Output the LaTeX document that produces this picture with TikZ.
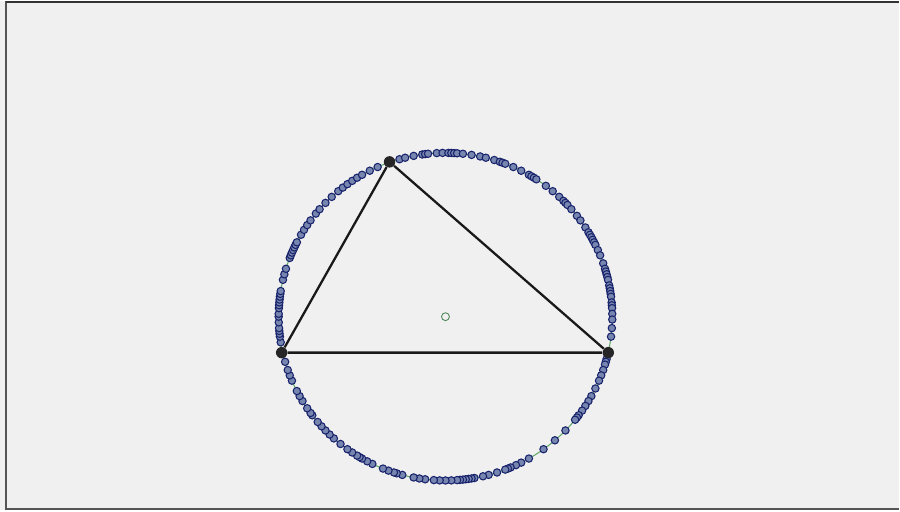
\documentclass[tikz,border=0pt]{standalone}
\usepackage{tikz}
\usetikzlibrary{positioning,calc}
\definecolor{panel}{HTML}{F0F0F0}
\definecolor{frame}{HTML}{555555}
\definecolor{ringgreen}{HTML}{5FA86A}
\definecolor{dotfill}{HTML}{7686AE}
\definecolor{dotedge}{HTML}{18226C}
\begin{document}
\begin{tikzpicture}[x=0.2mm,y=-0.2mm]
        %
        % `vertex' is used for the triangle corners.
        % `sample' is used for the small points on the circle.
        % `centre' is used for the circle's middle point.
        \tikzstyle{vertex} = [fill=black!85,shape=circle,minimum size=6.5pt,inner sep=0pt]
        \tikzstyle{sample} = [draw=dotedge,fill=dotfill,shape=circle,line width=.6pt,minimum size=4.2pt,inner sep=0pt]
        \tikzstyle{centre} = [draw=ringgreen!80!black,fill=panel,shape=circle,line width=.5pt,minimum size=4.5pt,inner sep=0pt]
        \tikzstyle{edge} = [line width=1.3pt,black!90]
        %
        % Background panel
        \fill[panel] (0,0) rectangle (900,510);
        \draw[frame,line width=1.2pt] (6,0) -- (6,510);
        \draw[black!80,line width=1.2pt] (6,0.6) -- (900,0.6);
        \draw[frame,line width=1.2pt] (6,508.5) -- (900,508.5);
        %
        % Circle
        \node[centre] (o) at (446,316) {};
        \draw[ringgreen,line width=.6pt] (o) ellipse [x radius=167,y radius=164];
        %
        % Points on the circle
        \foreach \a in {106,104,101,98,97,96,93,91,89,88,87,86,84,81,78,76,73,71,70,69,66,63,60,59,58,57,53,50,47,45,44,43,41,38,36,33,31,30,29,28,27,26,24,22,19,17,16,15,14,13,11,10,9,8,7,5,4,3,1,359,356,353,
                        345,344,343,341,339,337,334,331,329,327,325,323,322,321,316,311,306,300,297,295,293,292,291,288,285,283,280,279,278,277,276,275,274,272,270,268,266,263,261,259,255,253,252,250,248,244,242,240,239,238,236,234,231,228,226,224,222,220,217,216,214,211,209,207,203,201,199,196,
                        189,187,186,185,184,182,180,179,177,176,175,174,173,172,171,167,165,163,159,158,157,156,155,154,153,150,148,146,144,141,139,136,133,130,128,126,124,122,120,117,114}
            \node[sample] at ($(o)+(\a:167 and -164)$) {};
        %
        % Triangle
        \node[vertex] (a) at (390,161) {};
        \node[vertex] (b) at (282,352) {};
        \node[vertex] (c) at (609,352) {};
        \draw[edge] (a) -- (b) -- (c) -- (a);
        %
    \end{tikzpicture}
\end{document}
